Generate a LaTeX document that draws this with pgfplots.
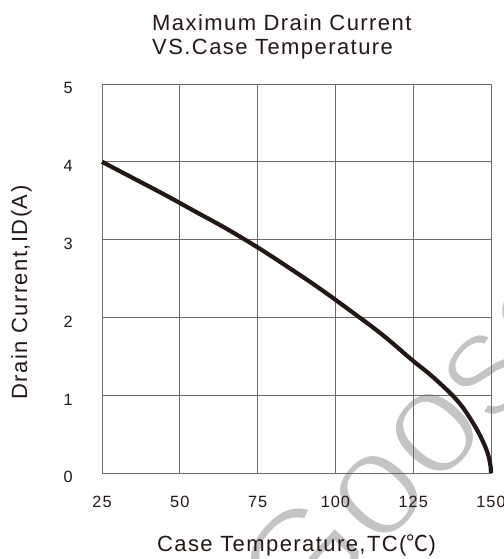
\documentclass[border=0pt]{standalone}
\usepackage{pgfplots}
\pgfplotsset{compat=1.18}
\usepackage{fontspec}
\setmainfont{Liberation Sans}[LetterSpace=6.5]
\newfontfamily\wmfont{Liberation Sans}
\newfontfamily\cjk{Noto Sans CJK SC}
\definecolor{ink}{HTML}{231815}
\definecolor{gridc}{HTML}{6F6A68}
\definecolor{wmgray}{HTML}{C4C4C4}

\begin{document}
\begin{tikzpicture}[x=1bp,y=1bp]
\useasboundingbox (0,0) rectangle (504,559);

% faint watermark behind the chart (thin strokes: glyphs outlined in white)
\begin{scope}
  \clip (0,0) rectangle (504,559);
  \node[rotate=48, anchor=base west, inner sep=0pt, text=wmgray,
        font=\wmfont\fontsize{150bp}{150bp}\selectfont] at (302,-80)
        {\special{pdf:literal direct 2 Tr 4.5 w 1 1 1 RG}Goose\special{pdf:literal direct 0 Tr}};
\end{scope}

\begin{axis}[
  at={(102bp,86bp)}, anchor=south west,
  scale only axis, width=389bp, height=389bp,
  xmin=25, xmax=150, ymin=0, ymax=5,
  xtick={25,50,75,100,125,150},
  ytick={0,1,2,3,4,5},
  grid=major,
  major grid style={draw=gridc, line width=0.9bp},
  axis line style={draw=gridc, line width=0.9bp},
  tick style={draw=none},
  /pgf/number format/assume math mode=true,
  tick label style={text=ink, font=\fontsize{16.3bp}{18bp}\selectfont},
  xticklabel style={anchor=base, inner sep=0pt, yshift=-35bp},
  yticklabel style={anchor=base east, inner sep=0pt, xshift=-29bp, yshift=-10bp},
  xlabel={Case Temperature,TC({\cjk ℃})},
  xlabel style={at={(axis description cs:0.5,0)}, anchor=base, inner sep=0pt,
                yshift=-79bp, text=ink, font=\fontsize{22bp}{24bp}\selectfont},
  ylabel={Drain Current,ID(A)},
  ylabel style={at={(axis description cs:-0.1928,0.464)}, anchor=base, inner sep=0pt,
                text=ink, font=\fontsize{22bp}{24bp}\selectfont},
  clip=false,
]
\addplot[draw=ink, line width=4.2bp, smooth, tension=0.6] coordinates {
  (25,4.00) (35,3.79) (45,3.58) (55,3.36) (65,3.14) (75,2.90)
  (85,2.64) (95,2.37) (105,2.08) (115,1.78) (125,1.44) (130,1.28)
  (135,1.10) (138.5,0.96) (141,0.84) (143,0.72) (145,0.59)
  (146.5,0.48) (147.8,0.37) (148.8,0.27) (149.5,0.17) (149.85,0.09) (150,0)
};
\end{axis}

% two-line title, left aligned
\node[anchor=base west, inner sep=0pt, text=ink,
      font=\fontsize{22bp}{24bp}\selectfont] at (152,528.3) {Maximum Drain Current};
\node[anchor=base west, inner sep=0pt, text=ink,
      font=\fontsize{22bp}{24bp}\selectfont] at (152,504) {VS.Case Temperature};
\end{tikzpicture}
\end{document}
